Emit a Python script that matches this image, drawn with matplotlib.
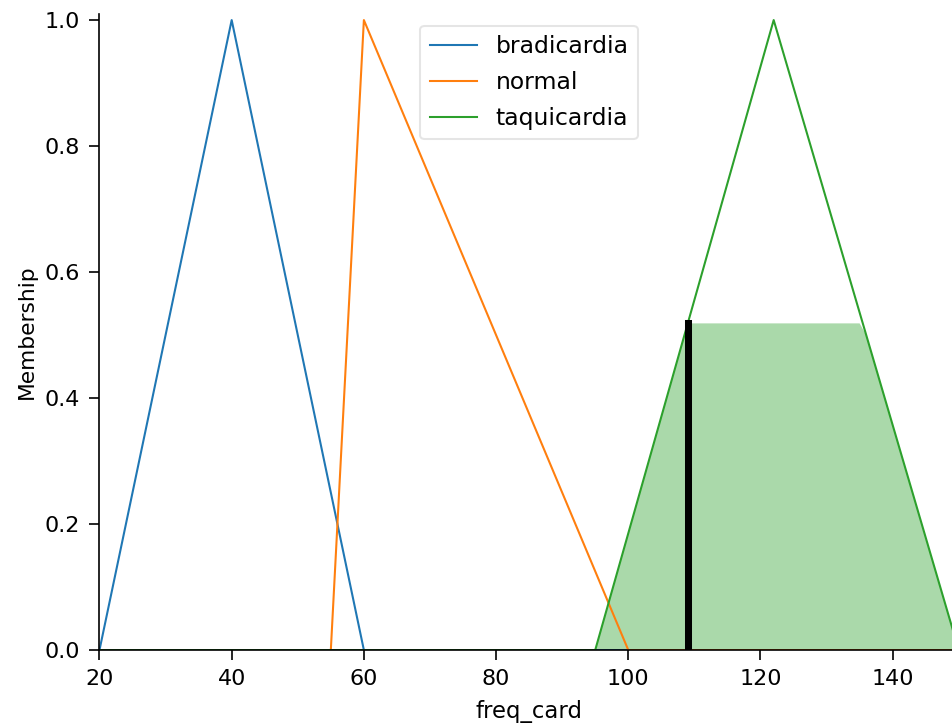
import numpy as np
import matplotlib.pyplot as plt

# universe of the heart rate variable
freq_card = np.arange(20, 151, 1)

# triangular membership breakpoints (a, b, c)
bradicardia = [20, 40, 60]
normal = [55, 60, 100]
taquicardia = [95, 122, 150]

# crisp output value
crisp = 109

def trimf(x, abc):
    a, b, c = abc
    return np.interp(x, [a, b, c], [0, 1, 0])

mf_brad = trimf(freq_card, bradicardia)
mf_norm = trimf(freq_card, normal)
mf_taq = trimf(freq_card, taquicardia)

level = np.interp(crisp, freq_card, mf_taq)
activation = np.fmin(mf_taq, level)

fig = plt.figure(figsize=(6.4, 728 / 148.75), dpi=148.75)
ax = fig.add_axes([0.1045, 0.1071, 0.9026, 0.874])

ax.plot(freq_card, mf_brad, linewidth=1.0, label='bradicardia')
ax.plot(freq_card, mf_norm, linewidth=1.0, label='normal')
ax.plot(freq_card, mf_taq, linewidth=1.0, label='taquicardia')
ax.fill_between(freq_card, np.zeros_like(freq_card), activation,
                facecolor='tab:green', alpha=0.4)
ax.plot([crisp, crisp], [0, level], color='k', linewidth=3.4)

ax.set_xlim(freq_card.min(), freq_card.max())
ax.set_ylim(0, 1.01)
ax.set_xticks([20, 40, 60, 80, 100, 120, 140])
ax.set_yticks([0.0, 0.2, 0.4, 0.6, 0.8, 1.0])
ax.tick_params(labelsize=10.8, length=4.8, pad=4.5)
ax.set_xlabel('freq_card', fontsize=11, labelpad=5)
ax.set_ylabel('Membership', fontsize=10.5, labelpad=4)
ax.spines['top'].set_visible(False)
ax.spines['right'].set_visible(False)
ax.legend(loc='upper center', framealpha=0.5, fontsize=11.4, labelspacing=0.55)

plt.savefig('out.png', dpi=148.75)
